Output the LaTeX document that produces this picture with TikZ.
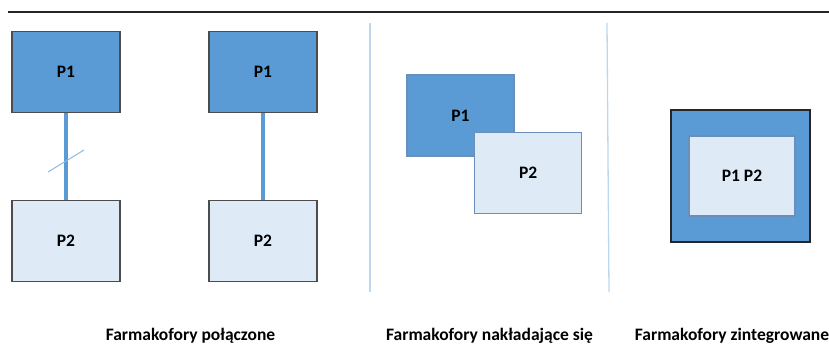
\documentclass[tikz,border=0pt]{standalone}
\usepackage{fontspec}
\setmainfont{Carlito}
\usepackage{tikz}
\usetikzlibrary{positioning}
\definecolor{pblue}{HTML}{5B9BD5}
\definecolor{plight}{HTML}{DEEBF7}
\definecolor{pedge}{HTML}{6C8EBA}
\definecolor{pline}{HTML}{BDD7EE}
\tikzstyle{pone} = [rectangle, minimum width = 108pt, minimum height = 81pt, inner sep=0pt,
text centered, draw=black!70, line width=1.2pt, fill=pblue, font=\fontsize{17.5}{20}\selectfont\bfseries]
\tikzstyle{ptwo} = [pone, fill=plight]
\tikzstyle{link} = [line width=4pt, draw=pblue]
\tikzstyle{divider} = [line width=1.3pt, draw=pline]
\tikzstyle{caption} = [font=\fontsize{17.5}{20}\selectfont\bfseries, inner sep=0pt]

\begin{document}
\begin{tikzpicture}[x=1pt, y=-1pt]
\useasboundingbox (0,0) rectangle (829,356);

% ------------------------- nodes -------------------------

% ----- header line
\coordinate (hl) at (8,12);
\coordinate (hr) at (829,12);
% ----- connected: left pair
\node(c1)[pone] at (66,72) {P1};
\node(c2)[ptwo, below=87pt of c1] {P2};
% ----- connected: right pair
\node(d1)[pone] at (263,72) {P1};
\node(d2)[ptwo, below=87pt of d1] {P2};
% ----- cut mark
\coordinate (cutA) at (48,172);
\coordinate (cutB) at (84,150);
% ----- dividers
\coordinate (v1t) at (370,23);
\coordinate (v1b) at (370,292);
\coordinate (v2t) at (607,23);
\coordinate (v2b) at (609,292);
% ----- overlapping
\node(o1)[pone, minimum width=107pt, draw=pedge] at (460.5,115.5) {P1};
\node(o2)[ptwo, minimum width=107pt, draw=pedge, anchor=north west] at (474,132) {P2};
% ----- integrated
\node(i1)[pone, minimum width=139pt, minimum height=132pt, draw=black!85] at (740.5,176) {};
\node(i2)[ptwo, minimum width=106pt, minimum height=80pt, draw=pedge] at (742,176) {P1 P2};
% ----- captions
\node(l1)[caption] at (190.5,336) {Farmakofory połączone};
\node(l2)[caption] at (489.5,336) {Farmakofory nakładające się};
\node(l3)[caption] at (732,336) {Farmakofory zintegrowane};

% ------------------------- connections -------------------------
\draw[line width=1.2pt, black!85](hl)--(hr);
\draw[link](c1)--(c2);
\draw[link](d1)--(d2);
\draw[line width=1pt, draw=pblue!70](cutA)--(cutB);
\draw[divider](v1t)--(v1b);
\draw[divider](v2t)--(v2b);

\end{tikzpicture}
\end{document}
